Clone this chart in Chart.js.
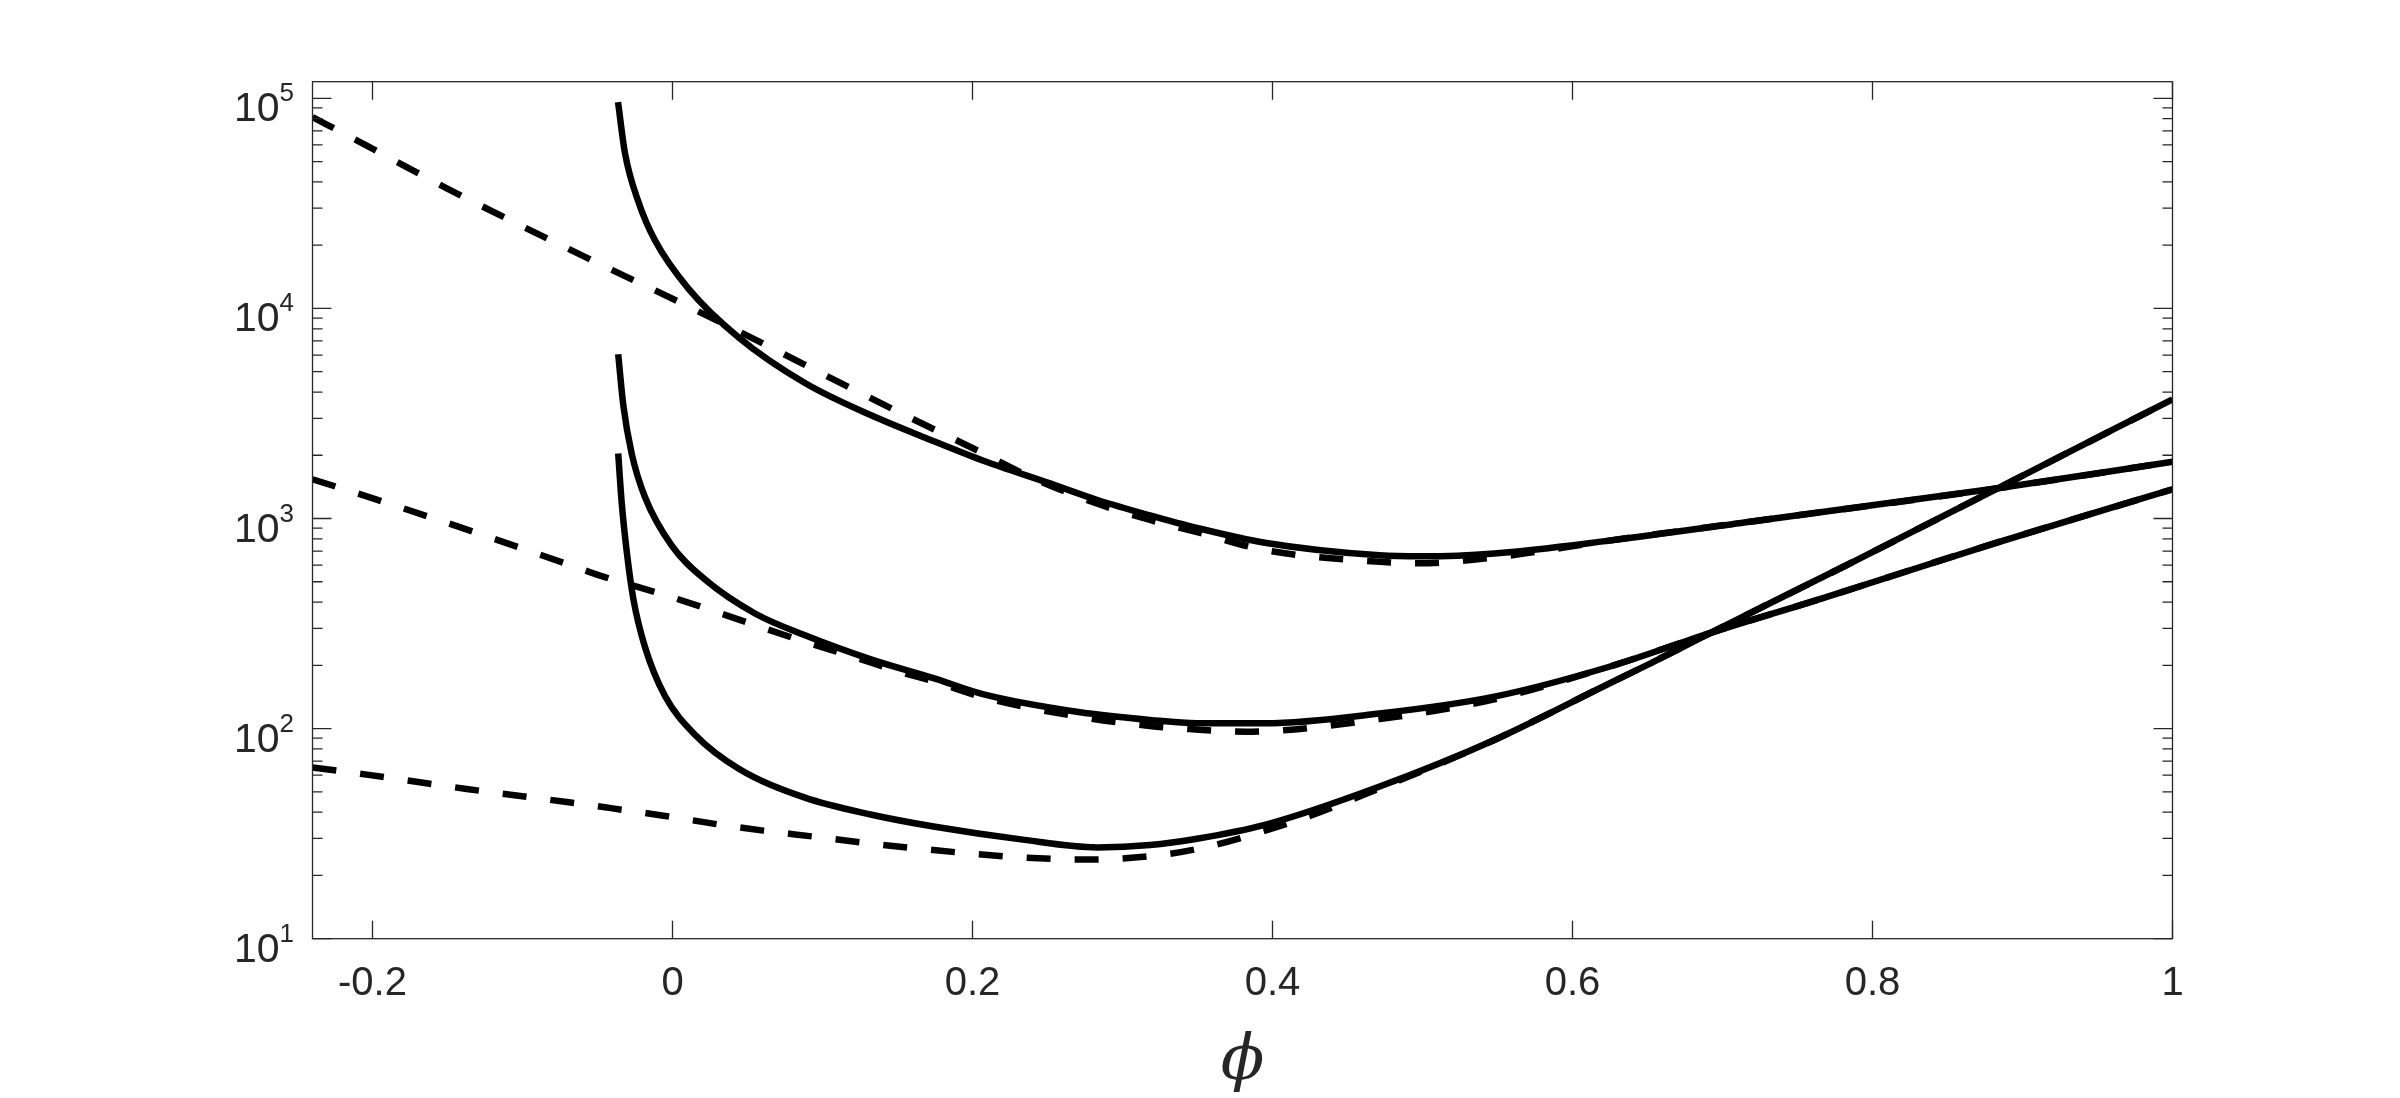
<!DOCTYPE html>
<html>
<head>
<meta charset="utf-8">
<script src="https://cdn.jsdelivr.net/npm/chart.js@4.4.1/dist/chart.umd.min.js"></script>
<style>
  html, body { margin: 0; padding: 0; background: #fff; }
</style>
</head>
<body>
<canvas id="phiChart" width="2400" height="1098"></canvas>
<script>

// tick values
var xTicks = [-0.2, 0, 0.2, 0.4, 0.6, 0.8, 1];
var yDecades = [10, 100, 1000, 10000, 100000];
var yExponents = ['1', '2', '3', '4', '5'];

// upper pair
var phiSolidTop = [-0.0363, -0.0317, -0.0228, -0.0117, 0.0106, 0.0439, 0.0883, 0.1328, 0.17, 0.2072, 0.2517, 0.2833, 0.3183, 0.3497, 0.3949, 0.4714, 0.5, 0.5479, 0.6245, 0.7183, 0.8835, 1.0];
var solidTop = [95900, 54950, 32280, 21090, 12420, 7295, 4416, 3090, 2399, 1884, 1469, 1225, 1035, 902, 767, 668, 661, 682, 785, 966, 1393, 1862];
var phiDashTop = [-0.24, -0.2105, -0.1505, -0.0905, -0.0394, 0.0061, 0.0661, 0.1106, 0.155, 0.2072, 0.2383, 0.2833, 0.3183, 0.3497, 0.3949, 0.4714, 0.4969, 0.5479, 0.6245, 0.7183, 0.8835, 1.0];
var dashTop = [81500, 63100, 37300, 22750, 15140, 10590, 6486, 4467, 3105, 2042, 1581, 1175, 984, 861, 708, 622, 612, 653, 785, 966, 1393, 1862];

// middle pair
var phiSolidMid = [-0.0362, -0.0328, -0.0272, -0.0183, -0.0005, 0.0217, 0.055, 0.0883, 0.1328, 0.175, 0.2068, 0.2706, 0.3183, 0.3497, 0.3949, 0.4714, 0.5479, 0.6245, 0.6917, 0.7665, 0.8813, 1.0];
var solidMid = [6053, 3467, 2037, 1262, 743, 512, 353, 278, 213, 173, 146, 120, 110, 106, 106, 118, 142, 197, 285, 417, 762, 1377];
var phiDashMid = [-0.24, -0.1972, -0.1328, -0.0705, -0.0451, -0.0072, 0.025, 0.0561, 0.0883, 0.1194, 0.1506, 0.175, 0.2068, 0.2706, 0.3183, 0.3446, 0.3821, 0.4714, 0.5479, 0.6245, 0.6917, 0.7665, 0.8813, 1.0];
var dashMid = [1538, 1230, 865, 608, 526, 437, 368, 309, 259, 221, 187, 167, 141, 114, 103, 99.5, 96.6, 111, 138, 197, 285, 417, 762, 1377];

// lower pair
var phiSolidLow = [-0.0362, -0.0339, -0.0306, -0.0261, -0.0183, -0.005, 0.015, 0.0439, 0.0883, 0.1328, 0.175, 0.2323, 0.2833, 0.3183, 0.3497, 0.3949, 0.4714, 0.5479, 0.6245, 0.6517, 0.6917, 0.7894, 0.8835, 1.0];
var solidLow = [2037, 1197, 705, 414, 244, 143, 93.5, 64.6, 46.9, 38.9, 34.1, 29.7, 27.2, 27.9, 29.9, 34.8, 53.0, 88.3, 164, 204, 285, 634, 1393, 3690];
var phiDashLow = [-0.24, -0.2039, -0.1372, -0.0705, -0.045, -0.0061, 0.0272, 0.0605, 0.0928, 0.1261, 0.1609, 0.2272, 0.2757, 0.3267, 0.3566, 0.3898, 0.4204, 0.4714, 0.5479, 0.6245, 0.6517, 0.6917, 0.7894, 0.8835, 1.0];
var dashLow = [65.3, 60.4, 51.6, 44.7, 42.2, 38.5, 35.3, 32.7, 30.7, 28.7, 27.0, 24.5, 23.8, 25.1, 27.4, 31.8, 37.4, 51.9, 88.3, 164, 204, 285, 634, 1393, 3690];


function pts(xs, ys) {
  var out = [];
  for (var i = 0; i < xs.length; i++) {
    out.push({ x: xs[i], y: ys[i] });
  }
  return out;
}

function curve(xs, ys, dashed) {
  return {
    data: pts(xs, ys),
    borderColor: '#000',
    borderWidth: 6.5,
    borderDash: dashed ? [24, 24] : [],
    pointRadius: 0,
    fill: false,
    cubicInterpolationMode: 'monotone'
  };
}

// matlab-like box, inward ticks and 10^n labels
var axesDecor = {
  id: 'axesDecor',
  afterDraw: function(chart) {
    var ctx = chart.ctx;
    var xs = chart.scales.x;
    var ys = chart.scales.y;
    var a = chart.chartArea;

    ctx.save();
    ctx.strokeStyle = '#262626';
    ctx.lineWidth = 1.3;
    ctx.beginPath();

    xs.ticks.forEach(function(t) {
      var px = xs.getPixelForValue(t.value);
      ctx.moveTo(px, a.bottom);
      ctx.lineTo(px, a.bottom - 18);
      ctx.moveTo(px, a.top);
      ctx.lineTo(px, a.top + 18);
    });

    yDecades.forEach(function(d) {
      var py = ys.getPixelForValue(d);
      ctx.moveTo(a.left, py);
      ctx.lineTo(a.left + 19, py);
      ctx.moveTo(a.right, py);
      ctx.lineTo(a.right - 19, py);
      for (var m = 2; m <= 9; m++) {
        if (m * d > ys.max) break;
        var pm = ys.getPixelForValue(m * d);
        ctx.moveTo(a.left, pm);
        ctx.lineTo(a.left + 10, pm);
        ctx.moveTo(a.right, pm);
        ctx.lineTo(a.right - 10, pm);
      }
    });
    ctx.stroke();

    ctx.strokeRect(a.left, a.top, a.right - a.left, a.bottom - a.top);

    // y labels with superscript
    ctx.fillStyle = '#262626';
    ctx.textBaseline = 'alphabetic';
    yDecades.forEach(function(d, i) {
      var py = ys.getPixelForValue(d);
      ctx.font = '41px "Liberation Sans", Arial, sans-serif';
      ctx.textAlign = 'right';
      ctx.fillText('10', a.left - 33, py + 23);
      ctx.font = '26px "Liberation Sans", Arial, sans-serif';
      ctx.textAlign = 'left';
      ctx.fillText(yExponents[i], a.left - 33, py + 3);
    });
    ctx.restore();
  }
};

Chart.defaults.font.family = '"Liberation Sans", Arial, sans-serif';
Chart.defaults.color = '#262626';

var ctx = document.getElementById('phiChart');
var phiChart = new Chart(ctx, {
  type: 'line',
  data: {
    datasets: [
      curve(phiSolidTop, solidTop, false),
      curve(phiSolidMid, solidMid, false),
      curve(phiSolidLow, solidLow, false),
      curve(phiDashTop, dashTop, true),
      curve(phiDashMid, dashMid, true),
      curve(phiDashLow, dashLow, true)
    ]
  },
  options: {
    responsive: false,
    animation: false,
    layout: {
      padding: { left: 0, right: 227.5, top: 81.7, bottom: 0 }
    },
    plugins: {
      legend: { display: false },
      tooltip: { enabled: false }
    },
    scales: {
      x: {
        type: 'linear',
        min: -0.24,
        max: 1,
        grid: { display: false },
        border: { display: false },
        afterBuildTicks: function(scale) {
          scale.ticks = xTicks.map(function(v) { return { value: v }; });
        },
        afterFit: function(scale) {
          scale.height = 1098 - 938.7;
        },
        ticks: {
          padding: 13,
          maxRotation: 0,
          font: { size: 40 },
          callback: function(v) { return String(Math.round(v * 10) / 10); }
        },
        title: {
          display: true,
          text: 'ϕ',
          color: '#262626',
          font: { family: '"DejaVu Serif", serif', style: 'italic', size: 64, lineHeight: 1 },
          padding: { top: 0, bottom: 4 }
        }
      },
      y: {
        type: 'logarithmic',
        min: 10,
        max: 120000,
        grid: { display: false },
        border: { display: false },
        ticks: { display: false },
        afterFit: function(scale) {
          scale.width = 312.5;
        }
      }
    }
  },
  plugins: [axesDecor]
});

</script>
</body>
</html>
